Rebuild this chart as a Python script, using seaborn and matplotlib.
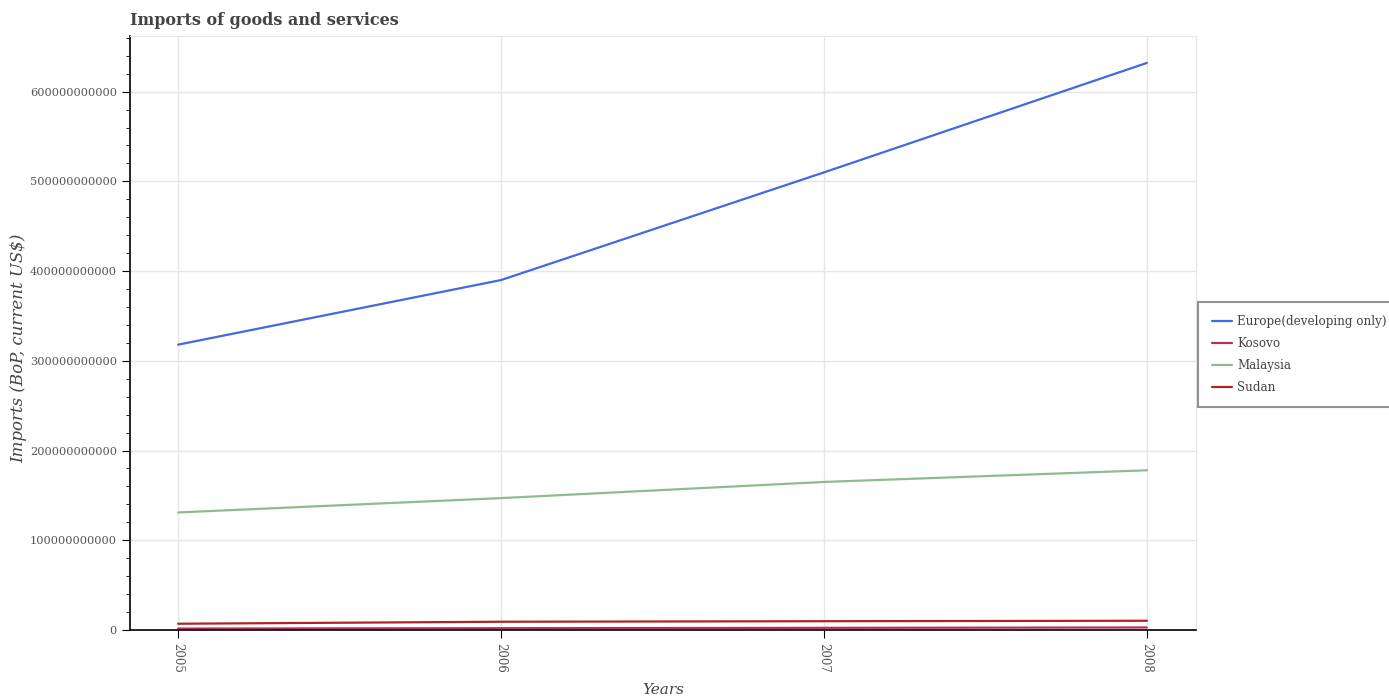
import matplotlib
matplotlib.use("Agg")
import matplotlib.pyplot as plt
import seaborn as sns
import pandas as pd
from matplotlib.ticker import MultipleLocator, FuncFormatter

years = [2005, 2006, 2007, 2008]
europe = [318e9, 390e9, 510e9, 632e9]
kosovo = [1.6e9, 2.0e9, 2.4e9, 2.8e9]
malaysia = [131e9, 147e9, 165e9, 178e9]
sudan = [7.0e9, 9.2e9, 9.8e9, 10.3e9]
series = ["Europe(developing only)", "Kosovo", "Malaysia", "Sudan"]
colors = ["#4169E1", "#B03060", "#8FBC8F", "#B22222"]

rows = []
for name, vals in zip(series, [europe, kosovo, malaysia, sudan]):
    for y, v in zip(years, vals):
        rows.append({"Year": y, "Value": v, "Series": name})
df = pd.DataFrame(rows)

sns.set_style("white")
plt.rcParams['font.family'] = ['DejaVu Serif']

fig = plt.figure(figsize=(13.89, 7.0), dpi=100)
ax = fig.add_axes([130 / 1389, 0.1, 1066 / 1389, 594 / 700])

sns.lineplot(data=df, x="Year", y="Value", hue="Series", palette=colors,
             hue_order=series, ax=ax, linewidth=1.6, legend=True)

ax.set_xlim(2004.851, 2008.152)
ax.set_ylim(0, 662e9)
ax.set_xticks(years)
ax.set_xticklabels([str(y) for y in years], rotation=270, color="#555555", fontsize=8.5)
ax.yaxis.set_major_locator(MultipleLocator(100e9))
ax.yaxis.set_minor_locator(MultipleLocator(20e9))
ax.yaxis.set_major_formatter(FuncFormatter(lambda v, p: f"{int(round(v))}"))
for lab in ax.get_yticklabels():
    lab.set_color("#555555")
ax.tick_params(axis="y", which="major", length=6, direction="out", color="black", labelsize=8.2, left=True)
ax.tick_params(axis="y", which="minor", length=3, direction="out", color="black", left=True)
ax.tick_params(axis="x", which="major", length=6, direction="out", color="black", bottom=True)
ax.grid(True, which="major", color="#e6e6e6", linewidth=1)
ax.set_axisbelow(True)

for s in ["left", "bottom"]:
    ax.spines[s].set_color("black")
    ax.spines[s].set_linewidth(1.2)
for s in ["top", "right"]:
    ax.spines[s].set_color("#e6e6e6")

ax.set_xlabel("")
ax.set_ylabel("")
fig.text(663 / 1389, 1 - 690 / 700, "Years", fontsize=11, style="italic",
         color="#444444", ha="center", va="center")
fig.text(19 / 1389, 1 - 348 / 700, "Imports (BoP, current US$)", fontsize=12,
         style="italic", color="#444444", ha="center", va="center", rotation=90)
ax.set_title("Imports of goods and services", loc="left", fontsize=11.5,
             fontweight="bold", color="#444444", pad=8)

leg = ax.legend(loc="upper left", bbox_to_anchor=(1.0, 0.556), frameon=True,
                fontsize=8.6, handlelength=1.7, borderpad=0.8, labelspacing=0.75,
                handletextpad=0.45)
leg.get_frame().set_edgecolor("#777777")
leg.get_frame().set_linewidth(1.5)
leg.get_frame().set_boxstyle("square")
for t in leg.get_texts():
    t.set_color("#444444")
leg.set_title(None)

fig.savefig("out.png", dpi=100)
